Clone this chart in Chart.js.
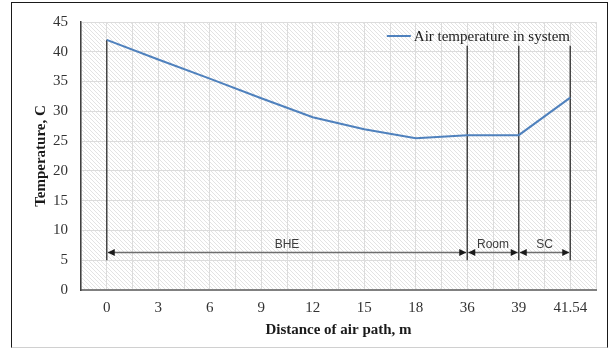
<!DOCTYPE html>
<html>
<head>
<meta charset="utf-8">
<script src="https://cdn.jsdelivr.net/npm/chart.js@4.4.0/dist/chart.umd.min.js"></script>
<style>
  html, body { margin: 0; padding: 0; background: #fff; }
  #wrap { position: relative; width: 612px; height: 349px; }
  #frame {
    position: absolute; left: 11px; top: 2px; width: 597px; height: 346px;
    box-sizing: border-box; border: 1.5px solid #1a1a1a; border-bottom-color: #d0d0d0;
    pointer-events: none;
  }
</style>
</head>
<body>
<div id="wrap">
  <canvas id="chart" width="612" height="349"></canvas>
  <div id="frame"></div>
</div>
<script>
var distances = ['0', '3', '6', '9', '12', '15', '18', '36', '39', '41.54'];
var airTemp = [42, 38.7, 35.5, 32.2, 29, 27, 25.5, 26, 26, 32.3];

// section borders along the air path and the zones between them
var boundaries = ['0', '36', '39', '41.54'];
var boundaryTop = [42, 41, 41, 41];
var boundaryBottom = 5;
var sections = ['BHE', 'Room', 'SC'];
var arrowLevel = 6.3;

var lineColor = '#4f81bd';
var serif = '"Liberation Serif", "Times New Roman", serif';

// light diagonal hatch for the plot background
var hatch = (function () {
  var c = document.createElement('canvas');
  c.width = 4; c.height = 4;
  var g = c.getContext('2d');
  g.fillStyle = '#ffffff';
  g.fillRect(0, 0, 4, 4);
  g.strokeStyle = '#e3e3e3';
  g.lineWidth = 1;
  g.beginPath();
  g.moveTo(-1, -1); g.lineTo(5, 5);
  g.moveTo(-1, 3); g.lineTo(1, 5);
  g.moveTo(3, -1); g.lineTo(5, 1);
  g.stroke();
  return c;
})();

var backdrop = {
  id: 'backdrop',
  beforeDraw: function (chart) {
    var a = chart.chartArea, ctx = chart.ctx;
    ctx.save();
    ctx.fillStyle = ctx.createPattern(hatch, 'repeat');
    ctx.fillRect(a.left, a.top, a.right - a.left, a.bottom - a.top);
    ctx.restore();
  }
};

var zones = {
  id: 'zones',
  afterDatasetsDraw: function (chart) {
    var ctx = chart.ctx, xs = chart.scales.x, ys = chart.scales.y;
    var py = ys.getPixelForValue(arrowLevel);
    ctx.save();
    sections.forEach(function (name, i) {
      var x0 = xs.getPixelForValue(distances.indexOf(boundaries[i])) + 1;
      var x1 = xs.getPixelForValue(distances.indexOf(boundaries[i + 1])) - 1;
      ctx.strokeStyle = '#6e6e6e';
      ctx.lineWidth = 1.6;
      ctx.beginPath();
      ctx.moveTo(x0, py);
      ctx.lineTo(x1, py);
      ctx.stroke();
      ctx.fillStyle = '#1a1a1a';
      ctx.beginPath();
      ctx.moveTo(x0, py); ctx.lineTo(x0 + 7, py - 3.5); ctx.lineTo(x0 + 7, py + 3.5);
      ctx.closePath();
      ctx.moveTo(x1, py); ctx.lineTo(x1 - 7, py - 3.5); ctx.lineTo(x1 - 7, py + 3.5);
      ctx.closePath();
      ctx.fill();
      ctx.font = '12px "Liberation Sans", Arial, sans-serif';
      ctx.fillStyle = '#3c3c3c';
      ctx.textAlign = 'center';
      ctx.textBaseline = 'bottom';
      ctx.fillText(name, (x0 + x1) / 2, py - 2);
    });
    ctx.restore();
  }
};

var legendBox = {
  id: 'legendBox',
  afterDraw: function (chart) {
    var ctx = chart.ctx, a = chart.chartArea;
    var text = chart.data.datasets[0].label;
    ctx.save();
    ctx.font = '15px ' + serif;
    var w = ctx.measureText(text).width;
    var tx = a.right - 26 - w;
    var y = a.top + 15;
    ctx.strokeStyle = lineColor;
    ctx.lineWidth = 2;
    ctx.beginPath();
    ctx.moveTo(tx - 27, y - 1);
    ctx.lineTo(tx - 3, y - 1);
    ctx.stroke();
    ctx.fillStyle = '#1a1a1a';
    ctx.textAlign = 'left';
    ctx.textBaseline = 'middle';
    ctx.fillText(text, tx, y);
    ctx.restore();
  }
};

var datasets = [{
  label: 'Air temperature in system',
  data: airTemp,
  borderColor: lineColor,
  borderWidth: 2,
  pointRadius: 0,
  tension: 0
}];

boundaries.forEach(function (b, i) {
  datasets.push({
    label: 'boundary ' + b,
    data: [{ x: b, y: boundaryTop[i] }, { x: b, y: boundaryBottom }],
    borderColor: '#454545',
    borderWidth: 1.5,
    pointRadius: 0
  });
});

new Chart(document.getElementById('chart').getContext('2d'), {
  type: 'line',
  data: { labels: distances, datasets: datasets },
  options: {
    responsive: false,
    animation: false,
    layout: { padding: { left: 0, right: 16, top: 19, bottom: 0 } },
    plugins: { legend: { display: false }, tooltip: { enabled: false } },
    scales: {
      x: {
        type: 'category',
        offset: true,
        grid: { offset: true, color: '#dcdcdc', drawTicks: false },
        border: { color: '#808080', width: 2 },
        ticks: { padding: 9, color: '#333', font: { family: serif, size: 15 } },
        title: {
          display: true, text: 'Distance of air path, m', color: '#1a1a1a',
          font: { family: serif, size: 15, weight: 'bold' },
          padding: { top: 0, bottom: 10 }
        },
        afterFit: function (s) { s.height = 59; }
      },
      x2: {
        type: 'category',
        labels: distances,
        position: 'bottom',
        offset: true,
        grid: { offset: false, color: '#dcdcdc', drawTicks: false },
        border: { display: false },
        ticks: { display: false },
        afterFit: function (s) { s.height = 0; }
      },
      y: {
        min: 0,
        max: 45,
        grid: { color: '#dcdcdc', drawTicks: false },
        border: { color: '#404040', width: 1.5 },
        ticks: { stepSize: 5, padding: 13, color: '#333', font: { family: serif, size: 15 } },
        title: {
          display: true, text: 'Temperature, C', color: '#1a1a1a',
          font: { family: serif, size: 15, weight: 'bold' },
          padding: { top: 32, bottom: 0 }
        },
        afterFit: function (s) { s.width = 81; }
      }
    }
  },
  plugins: [backdrop, zones, legendBox]
});
</script>
</body>
</html>
